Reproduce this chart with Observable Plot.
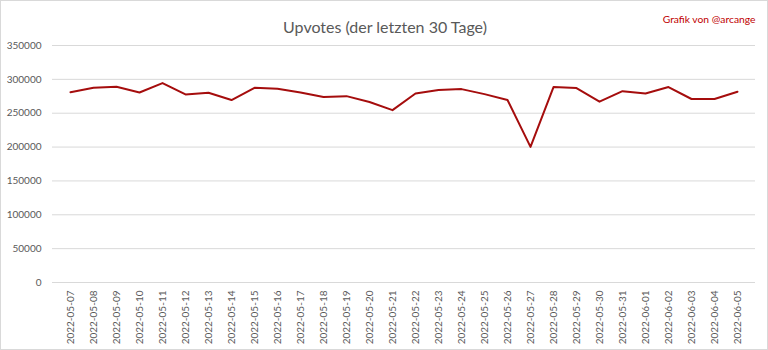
<!DOCTYPE html>
<html>
<head>
<meta charset="utf-8">
<script src="https://cdn.jsdelivr.net/npm/d3@7"></script>
<script src="https://cdn.jsdelivr.net/npm/@observablehq/plot@0.6"></script>
<style>
  html, body { margin: 0; padding: 0; background: #fff; }
  #wrap { position: relative; width: 768px; height: 350px; overflow: hidden; }
  #border { position: absolute; left: 0; top: 0; width: 768px; height: 350px; box-sizing: border-box; border: 1px solid #d9d9d9; pointer-events: none; }
</style>
</head>
<body>
<div id="wrap"><div id="border"></div></div>
<script>
const dates = [
  "2022-05-07","2022-05-08","2022-05-09","2022-05-10","2022-05-11","2022-05-12",
  "2022-05-13","2022-05-14","2022-05-15","2022-05-16","2022-05-17","2022-05-18",
  "2022-05-19","2022-05-20","2022-05-21","2022-05-22","2022-05-23","2022-05-24",
  "2022-05-25","2022-05-26","2022-05-27","2022-05-28","2022-05-29","2022-05-30",
  "2022-05-31","2022-06-01","2022-06-02","2022-06-03","2022-06-04","2022-06-05"
];
const upvotes = [
  281000, 287500, 289000, 280600, 294500, 277800,
  280200, 269500, 287500, 286000, 280500, 273800,
  275200, 266500, 254500, 279200, 284200, 285600,
  278200, 269500, 200300, 288600, 287200, 267000,
  282600, 279200, 288600, 271000, 271000, 281800
];
const yTicks = [0, 50000, 100000, 150000, 200000, 250000, 300000, 350000];
const titleText = "Upvotes (der letzten 30 Tage)";
const creditText = "Grafik von @arcange";

const data = dates.map((d, i) => ({date: d, value: upvotes[i]}));
const font = "Lato, 'Open Sans', sans-serif";

const chart = Plot.plot({
  width: 768,
  height: 350,
  marginLeft: 52,
  marginRight: 13,
  marginTop: 45,
  marginBottom: 68,
  style: {fontFamily: font, fontSize: "10px", color: "#595959", background: "transparent"},
  x: {type: "point", domain: dates, padding: 0.5, label: null},
  y: {domain: [0, 350000], label: null},
  marks: [
    Plot.gridY(yTicks, {stroke: "#d9d9d9", strokeOpacity: 1, strokeWidth: 1}),
    Plot.axisY(yTicks, {tickSize: 0, tickPadding: 11, tickFormat: d => String(d), fill: "#595959", fontSize: 10}),
    Plot.axisX(dates, {tickSize: 0, tickPadding: 8, tickRotate: -90, fill: "#595959", fontSize: 10}),
    Plot.line(data, {x: "date", y: "value", stroke: "#a50d0d", strokeWidth: 2, strokeLinejoin: "round"}),
    Plot.text([titleText], {frameAnchor: "top", dx: -19, dy: -24, text: d => d, fill: "#595959", fontSize: 16, fontFamily: font}),
    Plot.text([creditText], {frameAnchor: "top-right", dx: 0, dy: -30, textAnchor: "end", text: d => d, fill: "#c00000", fontSize: 10.3, fontFamily: font})
  ]
});
document.getElementById("wrap").insertBefore(chart, document.getElementById("border"));
</script>
</body>
</html>
